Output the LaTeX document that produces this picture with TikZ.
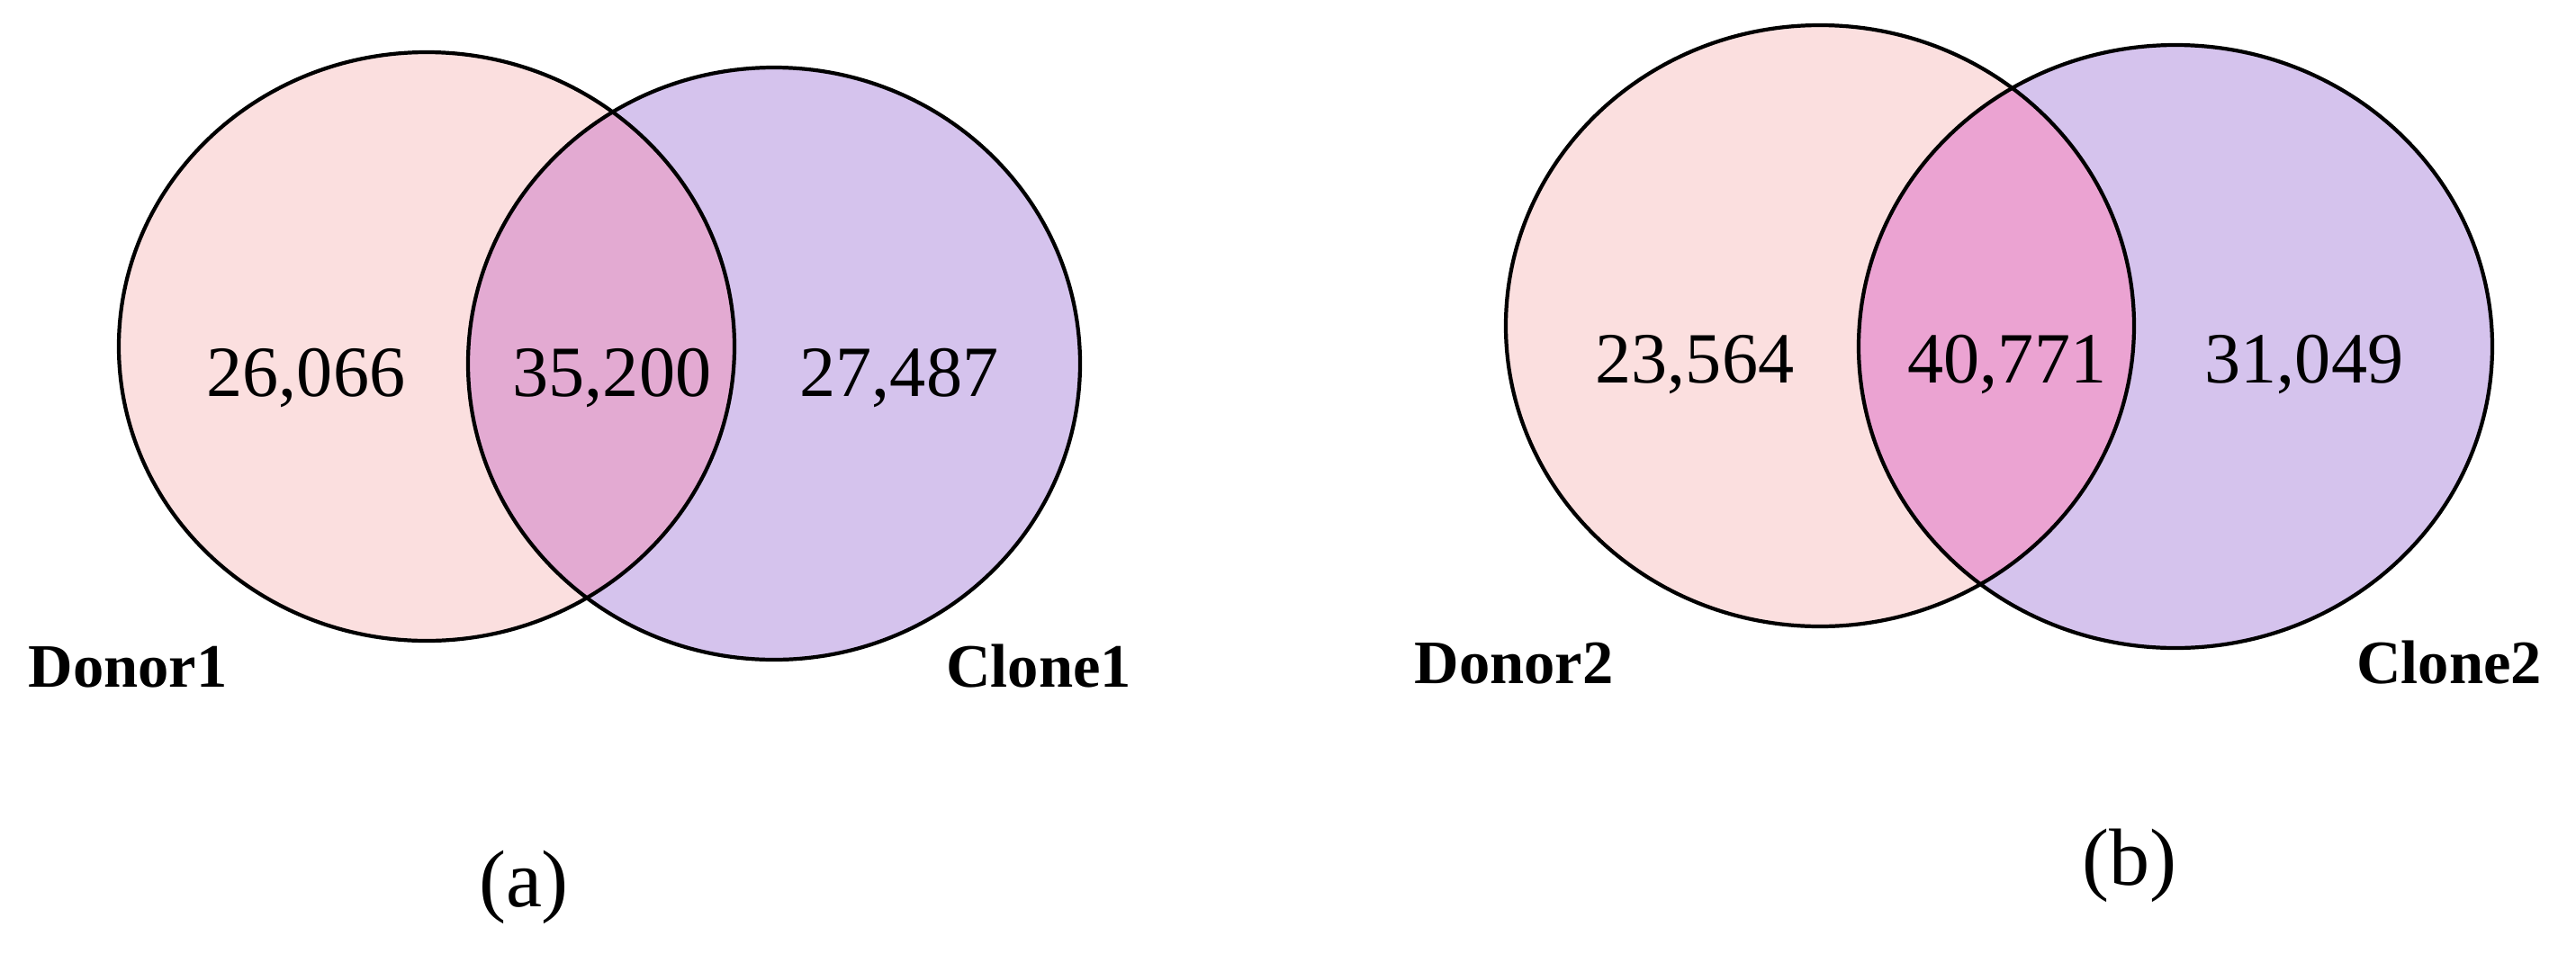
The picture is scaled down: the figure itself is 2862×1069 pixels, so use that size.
\documentclass[tikz,border=0pt]{standalone}
\usepackage{fontspec}
\setmainfont{Liberation Serif}
\definecolor{donorfill}{RGB}{251,223,223}
\definecolor{clonefill}{RGB}{213,195,237}
\definecolor{overlapa}{RGB}{227,170,210}
\definecolor{overlapb}{RGB}{235,163,210}
\tikzset{
  outline/.style={draw=black,line width=1.2pt},
  numtext/.style={anchor=base,inner sep=0pt,font=\fontsize{22.8}{26}\selectfont},
  labtext/.style={anchor=base,inner sep=0pt,font=\fontsize{19.5}{23}\selectfont\bfseries},
  captext/.style={anchor=base,inner sep=0pt,font=\fontsize{25.6}{30}\selectfont}
}
\begin{document}
\begin{tikzpicture}[x=0.01cm,y=-0.01cm]
\useasboundingbox (0,0) rectangle (2862,1069);
% panel (a)
\fill[donorfill] (474,385) ellipse [x radius=342,y radius=327];
\fill[clonefill] (860,404) ellipse [x radius=340,y radius=329];
\begin{scope}
  \clip (474,385) ellipse [x radius=342,y radius=327];
  \fill[overlapa] (860,404) ellipse [x radius=340,y radius=329];
\end{scope}
\draw[outline] (474,385) ellipse [x radius=342,y radius=327];
\draw[outline] (860,404) ellipse [x radius=340,y radius=329];
\node[numtext] (na1) at (340,440) {26,066};
\node[numtext] (na2) at (680,440) {35,200};
\node[numtext] (na3) at (999,440) {27,487};
\node[labtext] (donor1) at (142,763) {Donor1};
\node[labtext] (clone1) at (1154,763) {Clone1};
\node[captext] (capa) at (582,1007) {(a)};
% panel (b)
\fill[donorfill] (2022,362) ellipse [x radius=349,y radius=334];
\fill[clonefill] (2417,385) ellipse [x radius=352,y radius=335];
\begin{scope}
  \clip (2022,362) ellipse [x radius=349,y radius=334];
  \fill[overlapb] (2417,385) ellipse [x radius=352,y radius=335];
\end{scope}
\draw[outline] (2022,362) ellipse [x radius=349,y radius=334];
\draw[outline] (2417,385) ellipse [x radius=352,y radius=335];
\node[numtext] (nb1) at (1883,425) {23,564};
\node[numtext] (nb2) at (2230,425) {40,771};
\node[numtext] (nb3) at (2560,425) {31,049};
\node[labtext] (donor2) at (1682,759) {Donor2};
\node[labtext] (clone2) at (2721,759) {Clone2};
\node[captext] (capb) at (2366,983) {(b)};
\end{tikzpicture}
\end{document}
